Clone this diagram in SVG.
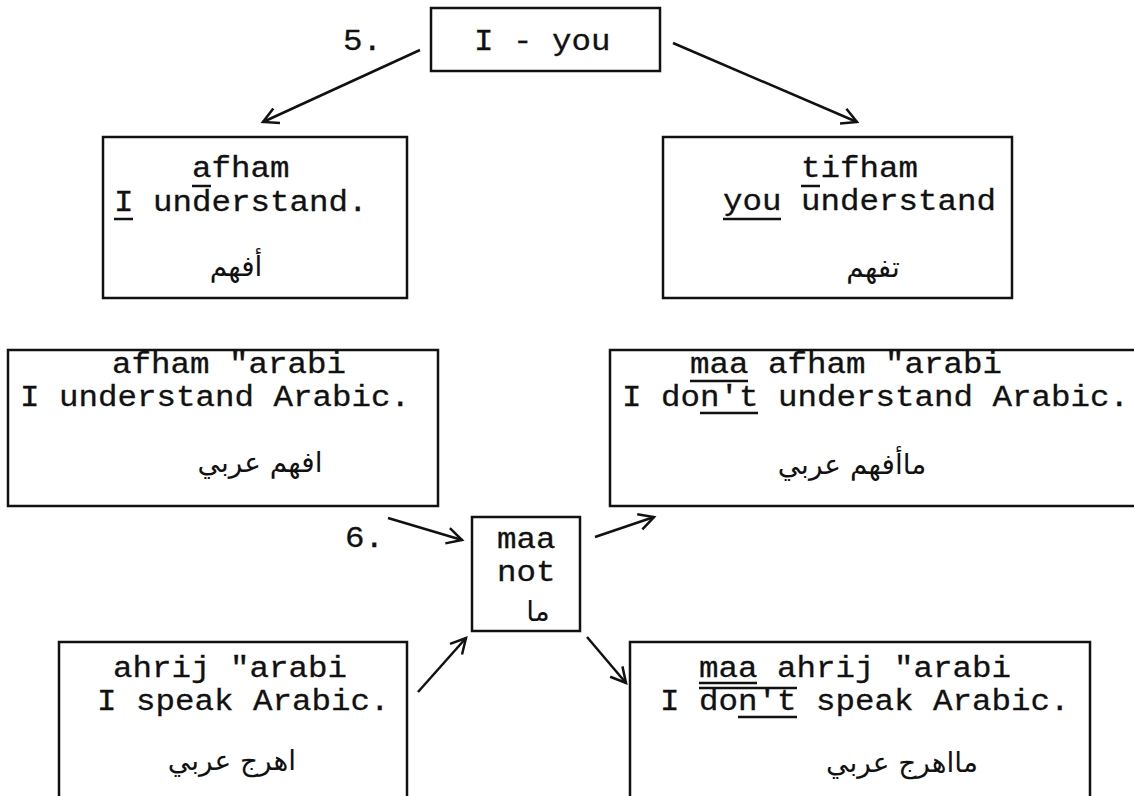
<svg xmlns="http://www.w3.org/2000/svg" width="1134" height="796" viewBox="0 0 1134 796">
  <defs>
    <style>
      .box{fill:none;stroke:#111;stroke-width:2.5}
      .t{font-family:"Liberation Mono","Courier New",monospace;font-size:29px;fill:#111;stroke:#111;stroke-width:0.3}
      .ar{font-family:"DejaVu Sans","Noto Sans",sans-serif;font-size:28px;fill:#111;text-anchor:middle}
      .mark{stroke:#111;stroke-width:2.5;fill:none}
      .conn{stroke:#111;stroke-width:2.5;fill:none;marker-end:url(#arrow)}
    </style>
    <marker id="arrow" markerUnits="userSpaceOnUse" viewBox="0 0 24 24" markerWidth="24" markerHeight="24" refX="18" refY="12" orient="auto">
      <path d="M3,4 L18,12 L3,20" fill="none" stroke="#111" stroke-width="2.5"/>
    </marker>
  </defs>
  <rect width="1134" height="796" fill="#fff"/>

  <!-- step numbers -->
  <g id="labels">
    <text class="t" x="343" y="50" textLength="39" lengthAdjust="spacingAndGlyphs">5.</text>
    <text class="t" x="345" y="547" textLength="39" lengthAdjust="spacingAndGlyphs">6.</text>
  </g>

  <!-- connectors -->
  <g id="connectors">
    <line class="conn" x1="420" y1="50" x2="263" y2="122"/>
    <line class="conn" x1="673" y1="43" x2="857" y2="122"/>
    <line class="conn" x1="388" y1="518" x2="462" y2="540"/>
    <line class="conn" x1="595" y1="537" x2="654" y2="517"/>
    <line class="conn" x1="418" y1="692" x2="466" y2="638"/>
    <line class="conn" x1="587" y1="637" x2="626" y2="683"/>
  </g>

  <g id="pronouns">
    <rect class="box" x="431" y="8" width="229" height="63"/>
    <text class="t" x="474" y="50" textLength="136.5" lengthAdjust="spacingAndGlyphs">I - you</text>
  </g>

  <g id="i-understand">
    <rect class="box" x="103" y="137" width="304" height="161"/>
    <text class="t" x="192" y="177" textLength="97.5" lengthAdjust="spacingAndGlyphs">afham</text>
    <text class="t" x="114" y="211" textLength="253.5" lengthAdjust="spacingAndGlyphs">I understand.</text>
    <line class="mark" x1="114" y1="219" x2="133" y2="219"/>
    <line class="mark" x1="192" y1="186" x2="211" y2="186"/>
    <text class="ar" x="236" y="276">أفهم</text>
  </g>

  <g id="you-understand">
    <rect class="box" x="663" y="137" width="349" height="161"/>
    <text class="t" x="801" y="177" textLength="117" lengthAdjust="spacingAndGlyphs">tifham</text>
    <text class="t" x="723" y="210" textLength="273" lengthAdjust="spacingAndGlyphs">you understand</text>
    <line class="mark" x1="723" y1="219" x2="781" y2="219"/>
    <line class="mark" x1="801" y1="186" x2="820" y2="186"/>
    <text class="ar" x="873" y="277">تفهم</text>
  </g>

  <g id="understand-arabic">
    <rect class="box" x="8" y="350" width="430" height="156"/>
    <text class="t" x="112" y="373" textLength="234" lengthAdjust="spacingAndGlyphs">afham "arabi</text>
    <text class="t" x="20" y="406" textLength="390" lengthAdjust="spacingAndGlyphs">I understand Arabic.</text>
    <text class="ar" x="260" y="472">افهم عربي</text>
  </g>

  <g id="dont-understand-arabic">
    <rect class="box" x="610" y="350" width="540" height="156"/>
    <text class="t" x="690" y="373" textLength="312" lengthAdjust="spacingAndGlyphs">maa afham "arabi</text>
    <text class="t" x="622" y="406" textLength="507" lengthAdjust="spacingAndGlyphs">I don't understand Arabic.</text>
    <line class="mark" x1="690" y1="381" x2="748" y2="381"/>
    <line class="mark" x1="700" y1="413" x2="758" y2="413"/>
    <text class="ar" x="852" y="474">ماأفهم عربي</text>
  </g>

  <g id="negation">
    <rect class="box" x="472" y="517" width="108" height="114"/>
    <text class="t" x="497" y="548" textLength="58.5" lengthAdjust="spacingAndGlyphs">maa</text>
    <text class="t" x="497" y="581" textLength="58.5" lengthAdjust="spacingAndGlyphs">not</text>
    <text class="ar" x="538" y="621">ما</text>
  </g>

  <g id="speak-arabic">
    <rect class="box" x="59" y="642" width="348" height="170"/>
    <text class="t" x="113" y="677" textLength="234" lengthAdjust="spacingAndGlyphs">ahrij "arabi</text>
    <text class="t" x="97" y="710" textLength="292.5" lengthAdjust="spacingAndGlyphs">I speak Arabic.</text>
    <text class="ar" x="232" y="770">اهرج عربي</text>
  </g>

  <g id="dont-speak-arabic">
    <rect class="box" x="630" y="642" width="460" height="170"/>
    <text class="t" x="699" y="677" textLength="312" lengthAdjust="spacingAndGlyphs">maa ahrij "arabi</text>
    <text class="t" x="660" y="710" textLength="409.5" lengthAdjust="spacingAndGlyphs">I don't speak Arabic.</text>
    <line class="mark" x1="699" y1="683" x2="757" y2="683"/>
    <line class="mark" x1="699" y1="688" x2="797" y2="688"/>
    <line class="mark" x1="738" y1="717" x2="797" y2="717"/>
    <text class="ar" x="902" y="772">مااهرج عربي</text>
  </g>
</svg>
